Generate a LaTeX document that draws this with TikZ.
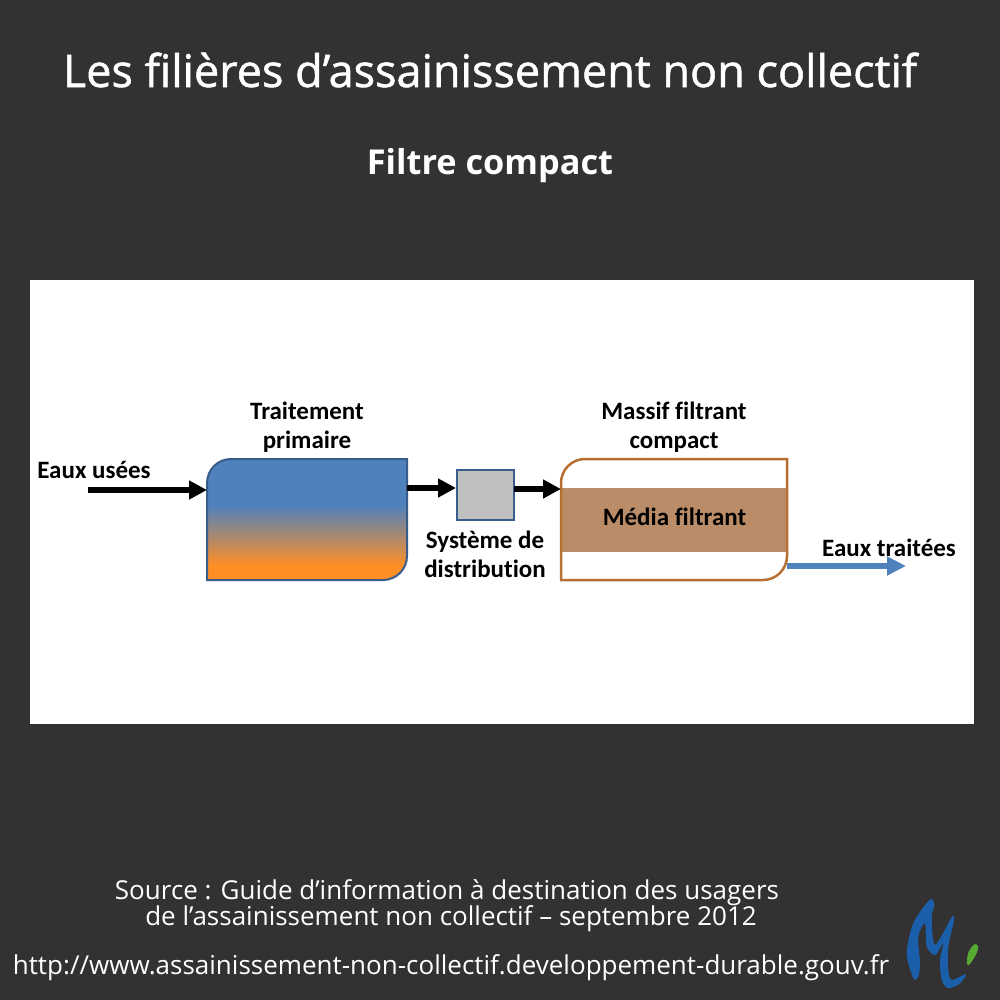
\documentclass[tikz,border=0pt]{standalone}
\usepackage{fontspec}
\setmainfont{Open Sans}
\newfontfamily\labelfont[Ligatures=NoCommon]{Carlito}
\usetikzlibrary{arrows.meta}
\definecolor{pageGray}{RGB}{51, 49, 50}
\definecolor{tankBlue}{RGB}{79, 129, 189}
\definecolor{tankOrange}{RGB}{255, 143, 37}
\definecolor{tankBorder}{RGB}{56, 93, 138}
\definecolor{mediaBrown}{RGB}{186, 140, 103}
\definecolor{massifBorder}{RGB}{183, 112, 50}
\definecolor{boxGray}{RGB}{191, 191, 191}
\definecolor{logoBlue}{RGB}{27, 95, 170}
\definecolor{logoGreen}{RGB}{88, 170, 50}
\pgfdeclareverticalshading{tankShade}{100bp}{color(0bp)=(tankOrange); color(31bp)=(tankOrange); color(56bp)=(tankBlue); color(100bp)=(tankBlue)}
\tikzset{
  title/.style={text=white,font=\fontsize{45}{50}\selectfont\addfontfeature{FakeBold=1.2},inner sep=0pt},
  subtitle/.style={text=white,font=\fontsize{34.3}{40}\selectfont\bfseries,inner sep=0pt},
  source/.style={text=white,font=\fontsize{26}{26}\selectfont,inner sep=0pt},
  lbl/.style={text=black,font=\fontsize{25}{29}\selectfont\labelfont\bfseries,align=center,inner sep=0pt},
  flow/.style={-{Triangle[length=18pt,width=18pt]},line width=6pt,black},
  flowout/.style={-{Triangle[length=19pt,width=18pt]},line width=5.5pt,tankBlue},
  anchorbox/.style={minimum width=#1,inner sep=0pt,outer sep=0pt}
}
\begin{document}
\begin{tikzpicture}[x=1pt,y=-1pt]
    \useasboundingbox (0,0) rectangle (1000,1000);
    \fill[pageGray] (0,0) rectangle (1000,1000);
    \fill[white] (30,280) rectangle (974,724);

    % Titles
    \node[title] (t1) at (490,70) {Les filières d’assainissement non collectif};
    \node[subtitle] (t2) at (490,166) {Filtre compact};

    % Tank
    \node[anchorbox=200pt,minimum height=121pt] (tank) at (307,519.5) {};
    \draw[line width=2pt,tankBorder,shading=tankShade]
        (tank.west) [rounded corners=24pt] -- (tank.north west) [sharp corners] -- (tank.north east) -- (tank.east) [rounded corners=24pt] -- (tank.south east) [sharp corners] -- (tank.south west) -- cycle;
    \node[lbl] (l1) at (307,427) {Traitement\\primaire};

    % Distribution
    \node[fill=boxGray,draw=tankBorder,line width=2pt,minimum width=57pt,minimum height=50pt,inner sep=0pt] (dist) at (485,494.5) {};
    \node[lbl] (l2) at (485,554) {Système de\\distribution};

    % Massif
    \node[anchorbox=226pt,minimum height=121pt] (massif) at (674,519.5) {};
    \node[fill=mediaBrown,anchorbox=225pt,minimum height=64pt] (media) at (674,520) {};
    \draw[line width=2.5pt,massifBorder]
        (massif.west) [rounded corners=24pt] -- (massif.north west) [sharp corners] -- (massif.north east) -- (massif.east) [rounded corners=24pt] -- (massif.south east) [sharp corners] -- (massif.south west) -- cycle;
    \node[lbl] (l6) at (674.5,517) {Média filtrant};
    \node[lbl] (l3) at (674,427) {Massif filtrant\\compact};

    % Inlet, outlet
    \coordinate (in) at (88,490);
    \coordinate (out) at (906,566);
    \coordinate (tankin) at (207,490);
    \coordinate (tankout) at (407,488);
    \coordinate (distin) at (456,488);
    \coordinate (distout) at (514,489);
    \coordinate (massifin) at (561,489);
    \coordinate (massifout) at (787,566);
    \node[lbl] (l4) at (94,470) {Eaux usées};
    \node[lbl] (l5) at (889,548) {Eaux traitées};

    \draw[flow] (in) -- (tankin);
    \draw[flow] (tankout) -- (distin);
    \draw[flow] (distout) -- (massifin);
    \draw[flowout] (massifout) -- (out);

    % Source
    \node[source] (s1) at (447,893) {Source : Guide d’information à destination des usagers};
    \node[source] (s2) at (451,919) {de l’assainissement non collectif – septembre 2012};
    \node[source] (s3) at (451,968) {http://www.assainissement-non-collectif.developpement-durable.gouv.fr};

    % Logo
    \fill[logoBlue] plot[smooth cycle,tension=0.5] coordinates {(913.3,978.3) (906.7,953.3) (913.3,923.3) (930,899.3) (934.3,905) (931.7,916.7) (935,945) (951.7,917.3) (954,920) (948.3,946.7) (948.3,970) (951.7,980) (966,974) (960,983.3) (948.3,988.3) (941.7,980) (940,960) (943.3,943.3) (935,955) (926.7,946.7) (925,923.3) (918.3,936.7) (920,963.3) (918.3,976.7)};
    \fill[logoGreen] plot[smooth cycle,tension=0.8] coordinates {(976,944) (977.5,951) (968.5,965) (967.5,956) (971,948)};
\end{tikzpicture}
\end{document}
